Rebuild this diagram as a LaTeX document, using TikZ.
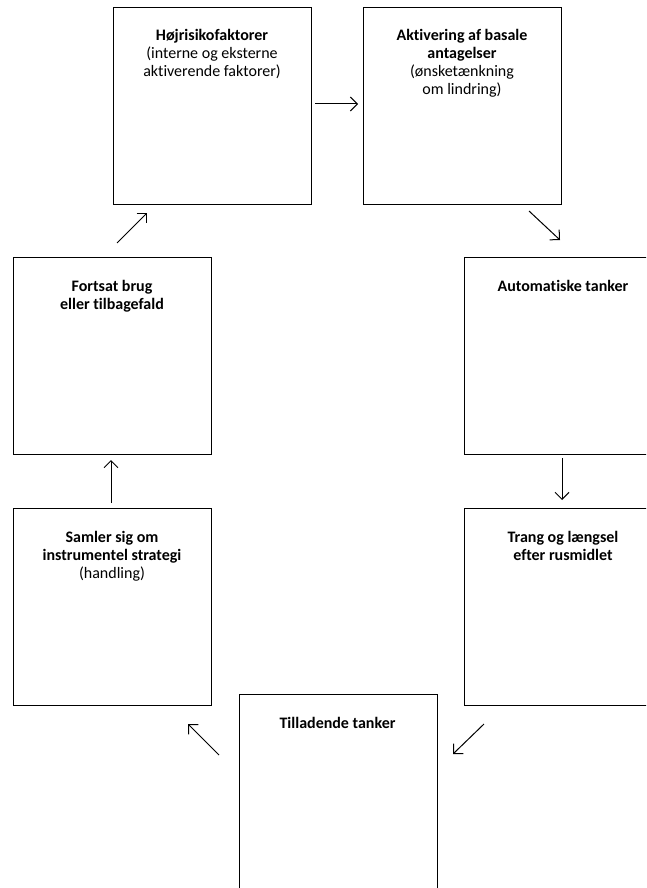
\documentclass[tikz,border=0pt]{standalone}
\usepackage{fontspec}
\setmainfont[Ligatures=NoCommon]{Carlito}
\usetikzlibrary{arrows.meta}
\begin{document}
\begin{tikzpicture}[x=1pt,y=-1pt,
  box/.style={draw=black,line width=1.3pt,minimum width=198pt,minimum height=197pt,inner sep=0pt,anchor=north west},
  lbl/.style={align=center,inner sep=0pt,anchor=base,font=\fontsize{16}{18}\selectfont},
  conn/.style={line width=1pt,-{Straight Barb[length=7pt,width=14pt,line width=1pt]}}]
\useasboundingbox (0,0) rectangle (646,888);
\clip (0,0) rectangle (646,888);
\fill[white] (0,0) rectangle (646,888);
% boxes
\node[box] (b1) at (113,7) {};
\node[box] (b2) at (363,7) {};
\node[box] (b3) at (464,257) {};
\node[box] (b4) at (464,508) {};
\node[box] (b5) at (239,694) {};
\node[box] (b7) at (13,508) {};
\node[box] (b6) at (13,257) {};
% labels (anchor base = last line's baseline)
\node[lbl] (t1) at (212,77) {\textbf{Højrisikofaktorer}\\(interne og eksterne\\aktiverende faktorer)};
\node[lbl] (t2) at (462,95) {\textbf{Aktivering af basale}\\\textbf{antagelser}\\(ønsketænkning\\om lindring)};
\node[lbl] (t3) at (563,291) {\textbf{Automatiske tanker}};
\node[lbl] (t4) at (563,560) {\textbf{Trang og længsel}\\\textbf{efter rusmidlet}};
\node[lbl] (t5) at (337.5,728) {\textbf{Tilladende tanker}};
\node[lbl] (t7) at (112,578) {\textbf{Samler sig om}\\\textbf{instrumentel strategi}\\(handling)};
\node[lbl] (t6) at (112,309) {\textbf{Fortsat brug}\\\textbf{eller tilbagefald}};
% connector end points
\coordinate (a1s) at (315,104);
\coordinate (a1e) at (358,104);
\coordinate (a2s) at (529,211);
\coordinate (a2e) at (560,240);
\coordinate (a3s) at (562,458);
\coordinate (a3e) at (562,500);
\coordinate (a4s) at (484,724);
\coordinate (a4e) at (453,754);
\coordinate (a5s) at (219,755);
\coordinate (a5e) at (188,724);
\coordinate (a6s) at (111,503);
\coordinate (a6e) at (111,460);
\coordinate (a7s) at (117,243);
\coordinate (a7e) at (147,213);
\draw[conn] (a1s) -- (a1e);
\draw[conn] (a2s) -- (a2e);
\draw[conn] (a3s) -- (a3e);
\draw[conn] (a4s) -- (a4e);
\draw[conn] (a5s) -- (a5e);
\draw[conn] (a6s) -- (a6e);
\draw[conn] (a7s) -- (a7e);
\end{tikzpicture}
\end{document}
